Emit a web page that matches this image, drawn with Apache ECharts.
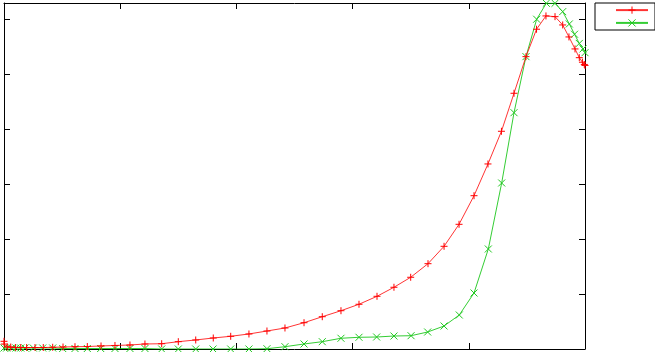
<!DOCTYPE html>
<html>
<head>
<meta charset="utf-8">
<script src="https://cdn.jsdelivr.net/npm/echarts@6/dist/echarts.min.js"></script>
<style>
html,body{margin:0;padding:0;background:#fff;}
#c{width:655px;height:352px;}
</style>
</head>
<body>
<div id="c"></div>
<script>
// Series 1 (red, "+")
const redX = [0.000, 0.003, 0.028, 0.058, 0.100, 0.144, 0.195, 0.267, 0.338, 0.419, 0.508, 0.611, 0.717, 0.835, 0.955, 1.084, 1.213, 1.357, 1.500, 1.650, 1.801, 1.951, 2.108, 2.263, 2.418, 2.582, 2.739, 2.900, 3.055, 3.210, 3.356, 3.500, 3.649, 3.787, 3.916, 4.045, 4.165, 4.281, 4.389, 4.492, 4.583, 4.664, 4.742, 4.808, 4.862, 4.914, 4.951, 4.978, 4.994, 5.000];
const redY = [0.14, 0.09, 0.036, 0.036, 0.027, 0.027, 0.027, 0.027, 0.027, 0.031, 0.036, 0.042, 0.045, 0.055, 0.064, 0.073, 0.091, 0.096, 0.133, 0.164, 0.200, 0.231, 0.273, 0.327, 0.382, 0.478, 0.587, 0.696, 0.813, 0.958, 1.122, 1.304, 1.551, 1.867, 2.267, 2.787, 3.364, 3.958, 4.649, 5.315, 5.813, 6.055, 6.042, 5.891, 5.673, 5.455, 5.296, 5.213, 5.173, 5.155];
// Series 2 (green, "x")
const greenX = [0.000, 0.023, 0.066, 0.103, 0.144, 0.181, 0.252, 0.333, 0.419, 0.505, 0.611, 0.717, 0.832, 0.955, 1.084, 1.213, 1.357, 1.500, 1.650, 1.799, 1.951, 2.108, 2.263, 2.418, 2.582, 2.739, 2.900, 3.055, 3.207, 3.356, 3.503, 3.646, 3.787, 3.918, 4.045, 4.168, 4.283, 4.389, 4.492, 4.584, 4.667, 4.742, 4.808, 4.865, 4.910, 4.951, 4.983, 5.000];
const greenY = [0.018, 0.018, 0.018, 0.018, 0.018, 0.018, 0.018, 0.018, 0.018, 0.009, 0.009, 0.009, 0.009, 0.009, 0.009, 0.009, 0.0, 0.0, 0.0, 0.0, 0.0, 0.0, 0.005, 0.042, 0.091, 0.133, 0.195, 0.213, 0.218, 0.236, 0.242, 0.309, 0.418, 0.618, 1.018, 1.818, 3.018, 4.296, 5.315, 5.995, 6.285, 6.285, 6.133, 5.909, 5.722, 5.555, 5.455, 5.387];
const seriesNames = ['s1', 's2'];

const zip = (xs, ys) => xs.map((x, i) => [x, ys[i]]);
const PLUS = 'path://M0,4H8M4,0V8';
const CROSS = 'path://M0,0L8,8M8,0L0,8';

const axisCommon = {
  type: 'value',
  axisLine: {show: true, onZero: false, lineStyle: {color: '#000', width: 1}},
  axisTick: {show: true, inside: true, length: 6, lineStyle: {color: '#000', width: 1}},
  axisLabel: {show: false},
  splitLine: {show: false}
};

const chart = echarts.init(document.getElementById('c'), null, {renderer: 'canvas'});
chart.setOption({
  animation: false,
  backgroundColor: '#fff',
  grid: {left: 4, right: 70, top: 3, bottom: 3, containLabel: false},
  xAxis: [
    Object.assign({}, axisCommon, {position: 'bottom', min: 0, max: 5, interval: 1}),
    Object.assign({}, axisCommon, {position: 'top', min: 0, max: 5, interval: 1})
  ],
  yAxis: [
    Object.assign({}, axisCommon, {position: 'left', min: 0, max: 6.29, interval: 1}),
    Object.assign({}, axisCommon, {position: 'right', min: 0, max: 6.29, interval: 1})
  ],
  legend: {
    show: true,
    data: seriesNames,
    orient: 'vertical',
    left: 595,
    top: 3,
    padding: [3, 2, 3, 20],
    itemWidth: 32,
    itemHeight: 9,
    itemGap: 4.6,
    borderColor: '#000',
    borderWidth: 1,
    formatter: () => '',
    textStyle: {fontSize: 9, lineHeight: 9},
    itemStyle: {borderWidth: 1},
    selectedMode: false
  },
  series: [
    {
      name: seriesNames[0],
      type: 'line',
      xAxisIndex: 0, yAxisIndex: 0,
      data: zip(redX, redY),
      symbol: PLUS,
      symbolSize: 7,
      showSymbol: true,
      lineStyle: {color: '#ff0000', width: 1, opacity: 0.8},
      itemStyle: {color: '#ff0000', borderColor: '#ff0000', borderWidth: 1},
      z: 3
    },
    {
      name: seriesNames[1],
      type: 'line',
      xAxisIndex: 0, yAxisIndex: 0,
      data: zip(greenX, greenY),
      symbol: CROSS,
      symbolSize: 7,
      showSymbol: true,
      lineStyle: {color: '#00c000', width: 1, opacity: 0.8},
      itemStyle: {color: '#22c822', borderColor: '#22c822', borderWidth: 1},
      z: 2
    }
  ]
});
</script>
</body>
</html>
